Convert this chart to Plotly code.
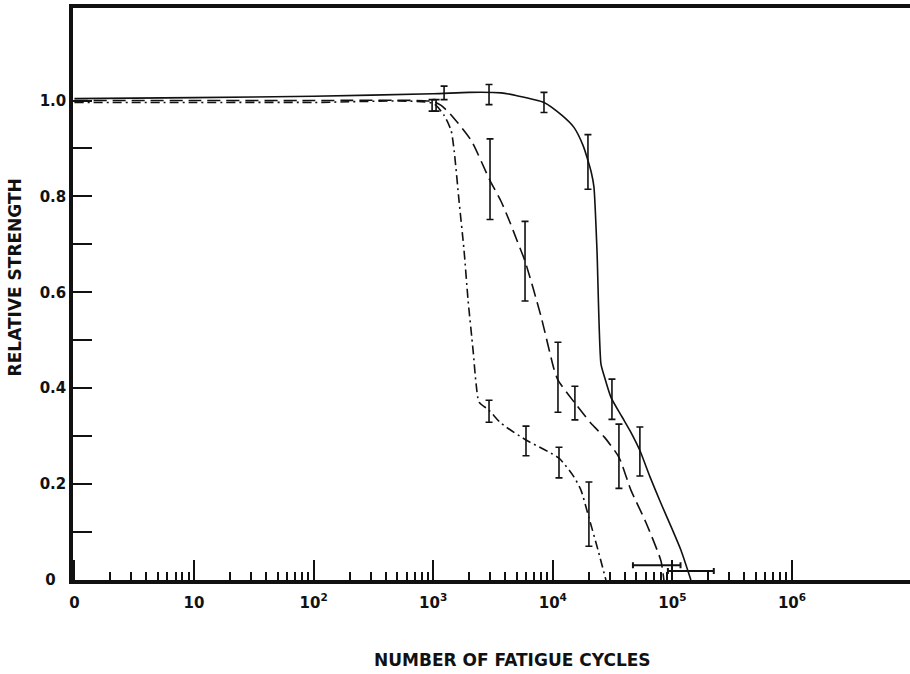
import plotly.graph_objects as go

# ---------------- data ----------------
# Curve 1: solid
solid_x = [1, 10, 100, 1000, 2000, 3700, 5020, 8440, 11940, 15030, 18000, 19680,
           21000, 22080, 23400, 25290, 26800, 30650, 38000, 45000, 53500, 65000,
           80200, 100000, 117800, 142800]
solid_y = [1.004, 1.006, 1.009, 1.014, 1.017, 1.016, 1.01, 0.996, 0.969, 0.944,
           0.905, 0.875, 0.85, 0.82, 0.69, 0.45, 0.427, 0.381, 0.34, 0.308, 0.27,
           0.215, 0.16, 0.105, 0.0625, 0.0]

# Curve 2: long dashes
dash_x = [1, 10, 100, 1000, 1165, 1412, 2074, 2986, 3690, 4400, 5020, 5860, 7970,
          10230, 11050, 15310, 20840, 27000, 35740, 45000, 60100, 80200, 84900]
dash_y = [1.0, 1.0, 1.0, 0.998, 0.99, 0.97, 0.917, 0.833, 0.79, 0.745, 0.708, 0.665,
          0.55, 0.44, 0.417, 0.369, 0.327, 0.298, 0.256, 0.1875, 0.12, 0.04, 0.0]

# Curve 3: dash-dot
dd_x = [1, 10, 100, 1000, 1233, 1412, 1496, 1646, 1811, 1958, 2155, 2282, 2418,
        2930, 3690, 5970, 11270, 15030, 17200, 20050, 23880, 27820]
dd_y = [0.996, 0.996, 0.996, 0.994, 0.969, 0.9375, 0.896, 0.79, 0.6875, 0.583,
        0.479, 0.41, 0.371, 0.354, 0.327, 0.292, 0.254, 0.215, 0.1875, 0.13,
        0.0625, 0.0]

# Measured points with vertical error bars
solid_pts_x = [1233, 2930, 8440, 19680, 31240, 53500]
solid_pts_y = [1.016, 1.0125, 0.996, 0.872, 0.377, 0.268]
solid_pts_e = [0.014, 0.021, 0.021, 0.057, 0.042, 0.051]

dash_pts_x = [1057, 2986, 5860, 11050, 15310, 35740]
dash_pts_y = [0.99, 0.836, 0.665, 0.423, 0.369, 0.258]
dash_pts_e = [0.012, 0.084, 0.083, 0.073, 0.035, 0.067]

dd_pts_x = [979, 2930, 5970, 11270, 20050]
dd_pts_y = [0.99, 0.352, 0.29, 0.245, 0.1375]
dd_pts_e = [0.012, 0.023, 0.031, 0.032, 0.067]

# Failure-life points with horizontal error bars
life_x = [142800, 74000]
life_y = [0.019, 0.031]
life_minus = [51100, 27200]
life_plus = [79200, 43000]

# Axis ticks
x_tickvals = [1, 10, 100, 1000, 10000, 100000, 1000000]
x_ticktext = ["0", "10", "10<sup>2</sup>", "10<sup>3</sup>", "10<sup>4</sup>",
              "10<sup>5</sup>", "10<sup>6</sup>"]
x_minor = [m * d for d in [1, 10, 100, 1000, 10000, 100000] for m in range(2, 10)]
y_tickvals = [0, 0.2, 0.4, 0.6, 0.8, 1.0]
y_ticktext = ["0\u2002\u2009", "0.2", "0.4", "0.6", "0.8", "1.0"]
y_minor = [0.1, 0.3, 0.5, 0.7, 0.9]

FONT = "DejaVu Sans"
BLACK = "#111111"

fig = go.Figure()

fig.add_trace(go.Scatter(x=solid_x, y=solid_y, mode="lines",
                         line=dict(color=BLACK, width=1.6, shape="spline", smoothing=0.6)))
fig.add_trace(go.Scatter(x=dash_x, y=dash_y, mode="lines",
                         line=dict(color=BLACK, width=1.6, shape="spline", smoothing=0.6,
                                   dash="13px,6px")))
fig.add_trace(go.Scatter(x=dd_x, y=dd_y, mode="lines",
                         line=dict(color=BLACK, width=1.6, shape="spline", smoothing=0.6,
                                   dash="9px,4px,2px,4px")))

for px_, py_, pe_ in [(solid_pts_x, solid_pts_y, solid_pts_e),
                      (dash_pts_x, dash_pts_y, dash_pts_e),
                      (dd_pts_x, dd_pts_y, dd_pts_e)]:
    fig.add_trace(go.Scatter(
        x=px_, y=py_, mode="markers",
        marker=dict(size=1, color="rgba(0,0,0,0)"),
        error_y=dict(type="data", array=pe_, visible=True, color=BLACK,
                     thickness=1.6, width=3.5)))

fig.add_trace(go.Scatter(
    x=life_x, y=life_y, mode="markers",
    marker=dict(size=1, color="rgba(0,0,0,0)"),
    error_x=dict(type="data", array=life_plus, arrayminus=life_minus, symmetric=False,
                 visible=True, color=BLACK, thickness=2, width=3)))

fig.update_layout(
    width=910, height=674,
    margin=dict(l=73, r=0, t=8, b=94),
    paper_bgcolor="white", plot_bgcolor="white",
    showlegend=False,
    font=dict(family=FONT, color=BLACK, size=15),
    xaxis=dict(
        type="log", range=[-0.012, 6.987],
        tickmode="array", tickvals=x_tickvals, ticktext=x_ticktext,
        ticks="inside", ticklen=20, tickwidth=1.6, tickcolor=BLACK,
        ticklabelstandoff=6,
        minor=dict(tickmode="array", tickvals=x_minor, ticks="inside",
                   ticklen=8, tickwidth=1.6, tickcolor=BLACK, showgrid=False),
        showline=True, linecolor=BLACK, linewidth=3.5, mirror=True,
        showgrid=False, zeroline=False,
        tickfont=dict(family=FONT, size=15, color=BLACK, weight="bold"),
    ),
    yaxis=dict(
        range=[0, 1.193],
        tickmode="array", tickvals=y_tickvals, ticktext=y_ticktext,
        ticks="inside", ticklen=19, tickwidth=1.6, tickcolor=BLACK,
        minor=dict(tickmode="array", tickvals=y_minor, ticks="inside",
                   ticklen=19, tickwidth=1.6, tickcolor=BLACK, showgrid=False),
        showline=True, linecolor=BLACK, linewidth=3.5, mirror=False,
        showgrid=False, zeroline=False,
        tickfont=dict(family=FONT, size=15, color=BLACK, weight="bold"),
    ),
    annotations=[
        dict(text="NUMBER OF FATIGUE CYCLES", xref="paper", yref="paper",
             x=0.5245, y=-0.1396, xanchor="center", yanchor="middle", showarrow=False,
             font=dict(family=FONT, size=17, color=BLACK, weight="bold")),
        dict(text="RELATIVE STRENGTH", xref="paper", yref="paper",
             x=-0.0693, y=0.529, xanchor="center", yanchor="middle", showarrow=False,
             textangle=-90,
             font=dict(family=FONT, size=17, color=BLACK, weight="bold")),
    ],
)

fig.write_html("out.html")
